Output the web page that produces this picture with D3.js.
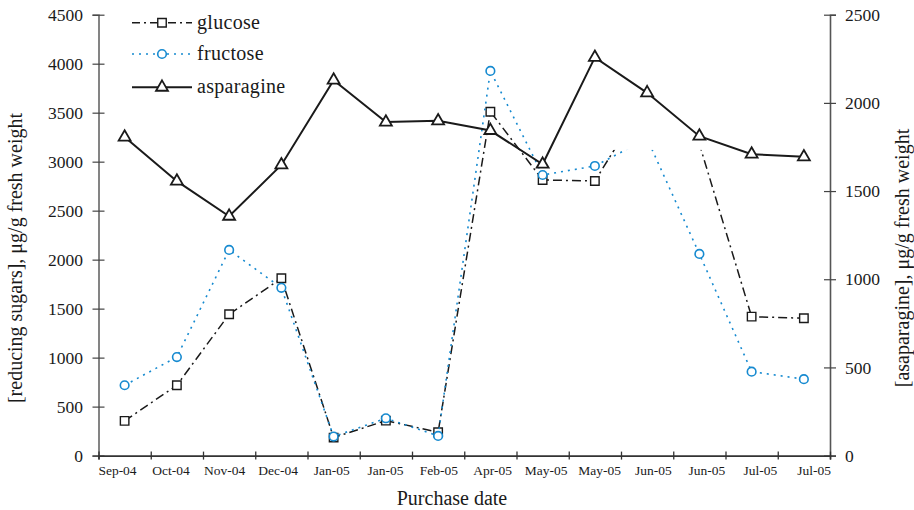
<!DOCTYPE html>
<html>
<head>
<meta charset="utf-8">
<script src="https://cdn.jsdelivr.net/npm/d3@7"></script>
<style>
  html, body { margin: 0; padding: 0; background: #fff; }
  svg text { font-family: "Liberation Serif", "Times New Roman", serif; fill: #1a1a1a; }
</style>
</head>
<body>
<svg id="chart" width="914" height="510"></svg>
<script>
// ---- data ----
const categories = ["Sep-04","Oct-04","Nov-04","Dec-04","Jan-05","Jan-05","Feb-05","Apr-05","May-05","May-05","Jun-05","Jun-05","Jul-05","Jul-05"];
const glucose    = [354, 718, 1442, 1810, 184, 357, 239, 3510, 2813, 2803, 3660, 3180, 1418, 1402];
const fructose   = [718, 1006, 2099, 1712, 194, 381, 201, 3926, 2864, 2956, 3235, 2058, 857, 780];
const asparagine = [1806, 1556, 1357, 1648, 2129, 1891, 1898, 1843, 1652, 2258, 2057, 1811, 1709, 1694];
const leftTicks  = [0, 500, 1000, 1500, 2000, 2500, 3000, 3500, 4000, 4500];
const rightTicks = [0, 500, 1000, 1500, 2000, 2500];
const seriesNames = ["glucose", "fructose", "asparagine"];
// region of the reference where the sugar traces are not shown (blank patch)
const blankFrom = 9, blankTo = 12, blankLow = 3120;

// ---- layout ----
const FONT = '"Liberation Serif", "Times New Roman", serif';
const L = 98.5, R = 830, T = 14.7, B = 455.6;
const svg = d3.select("#chart");
const idx = d3.range(categories.length);

const x = d3.scaleBand().domain(idx).range([L, R]).padding(0);
const xc = i => x(i) + x.bandwidth() / 2;
const xEdge = d3.scaleLinear().domain([0, categories.length]).range([L, R]);
const xLab = d3.scalePoint().domain(idx).range([117, 813.5]);
const yL = d3.scaleLinear().domain([0, 4500]).range([B, T]);
const yR = d3.scaleLinear().domain([0, 2500]).range([B, T]);

const blue = "#168ad0";
const fmt = d3.format("d");

// ---- axes ----
const gl = svg.append("g").attr("transform", `translate(${L},0)`)
  .call(d3.axisLeft(yL).tickValues(leftTicks).tickFormat(fmt).tickSize(6).tickPadding(9.5));
gl.attr("font-family", FONT);
gl.select(".domain").attr("stroke", "#666").attr("stroke-width", 1.6);
gl.selectAll(".tick line").attr("x1", 6).attr("stroke", "#444").attr("stroke-width", 1.2);
gl.selectAll(".tick text").style("font-size", "17.5px").style("font-family", FONT).attr("fill", "#1a1a1a");

const gr = svg.append("g").attr("transform", `translate(${R},0)`)
  .call(d3.axisRight(yR).tickValues(rightTicks).tickFormat(fmt).tickSize(6).tickPadding(9));
gr.attr("font-family", FONT);
gr.select(".domain").attr("stroke", "#555").attr("stroke-width", 1.6);
gr.selectAll(".tick line").attr("x1", -6).attr("stroke", "#444").attr("stroke-width", 1.2);
gr.selectAll(".tick text").style("font-size", "17.5px").style("font-family", FONT).attr("fill", "#1a1a1a");

const gb = svg.append("g").attr("transform", `translate(0,${B})`)
  .call(d3.axisBottom(xEdge).tickValues(d3.range(categories.length + 1)).tickSize(4).tickFormat(""));
gb.select(".domain").attr("stroke", "#333").attr("stroke-width", 1.6);
gb.selectAll(".tick line").attr("y1", -4).attr("stroke", "#333").attr("stroke-width", 1.3);

const gbl = svg.append("g").attr("transform", `translate(0,${B})`)
  .call(d3.axisBottom(xLab).tickSize(0).tickPadding(10).tickFormat(i => categories[i]));
gbl.attr("font-family", FONT);
gbl.select(".domain").remove();
gbl.selectAll(".tick text").style("font-size", "13.5px").style("font-family", FONT).attr("fill", "#1a1a1a");

// ---- axis titles ----
svg.append("text").attr("transform", "translate(22,258) rotate(-90)")
  .attr("text-anchor", "middle").style("font-size", "20px")
  .text("[reducing sugars], μg/g fresh weight");
svg.append("text").attr("transform", "translate(909,258) rotate(-90)")
  .attr("text-anchor", "middle").style("font-size", "20px")
  .text("[asaparagine], μg/g fresh weight");
svg.append("text").attr("x", 452).attr("y", 505)
  .attr("text-anchor", "middle").style("font-size", "20px")
  .text("Purchase date");

// ---- series ----
const lineL = d3.line().x((d, i) => xc(i)).y(d => yL(d));
const lineR = d3.line().x((d, i) => xc(i)).y(d => yR(d));
const sq = d3.symbol().type(d3.symbolSquare).size(72);
const tri = d3.symbol().type(d3.symbolTriangle).size(62);

// glucose
svg.append("path").datum(glucose).attr("d", lineL)
  .attr("fill", "none").attr("stroke", "#1a1a1a").attr("stroke-width", 1.5)
  .attr("stroke-dasharray", "9,4,2,4");
svg.selectAll(".gm").data(glucose).enter().append("path").attr("class", "gm")
  .attr("d", sq).attr("transform", (d, i) => `translate(${xc(i)},${yL(d)})`)
  .attr("fill", "#fff").attr("stroke", "#1a1a1a").attr("stroke-width", 1.4);

// fructose
svg.append("path").datum(fructose).attr("d", lineL)
  .attr("fill", "none").attr("stroke", blue).attr("stroke-width", 1.6)
  .attr("stroke-dasharray", "2,5");
svg.selectAll(".fm").data(fructose).enter().append("circle").attr("class", "fm")
  .attr("cx", (d, i) => xc(i)).attr("cy", d => yL(d)).attr("r", 4.3)
  .attr("fill", "#fff").attr("stroke", blue).attr("stroke-width", 1.6);

// blank patch over the sugar traces
svg.append("rect")
  .attr("x", xc(blankFrom) + 8).attr("y", yL(4500))
  .attr("width", xc(blankTo) - xc(blankFrom) - 8)
  .attr("height", yL(blankLow) - yL(4500))
  .attr("fill", "#fff");

// asparagine
svg.append("path").datum(asparagine).attr("d", lineR)
  .attr("fill", "none").attr("stroke", "#1a1a1a").attr("stroke-width", 2);
svg.selectAll(".am").data(asparagine).enter().append("path").attr("class", "am")
  .attr("d", tri).attr("transform", (d, i) => `translate(${xc(i)},${yR(d)})`)
  .attr("fill", "#fff").attr("stroke", "#1a1a1a").attr("stroke-width", 1.8);

// ---- legend ----
const lg = svg.append("g");
const legY = [22.7, 54, 87.3];
seriesNames.forEach((name, k) => {
  const y0 = legY[k];
  const ln = lg.append("line").attr("x1", 132).attr("x2", 192).attr("y1", y0).attr("y2", y0)
    .attr("stroke", k === 1 ? blue : "#1a1a1a").attr("stroke-width", k === 2 ? 2 : 1.5);
  if (k === 0) ln.attr("stroke-dasharray", "8,4,2,4");
  if (k === 1) ln.attr("stroke-dasharray", "2,5");
  if (k === 0) lg.append("path").attr("d", sq).attr("transform", `translate(162,${y0})`)
    .attr("fill", "#fff").attr("stroke", "#1a1a1a").attr("stroke-width", 1.4);
  if (k === 1) lg.append("circle").attr("cx", 162).attr("cy", y0).attr("r", 4.3)
    .attr("fill", "#fff").attr("stroke", blue).attr("stroke-width", 1.6);
  if (k === 2) lg.append("path").attr("d", tri).attr("transform", `translate(162,${y0})`)
    .attr("fill", "#fff").attr("stroke", "#1a1a1a").attr("stroke-width", 1.8);
  lg.append("text").attr("x", 197).attr("y", y0 + 5.8).style("font-size", "20px")
    .style("letter-spacing", "0.3px").text(name);
});
</script>
</body>
</html>
